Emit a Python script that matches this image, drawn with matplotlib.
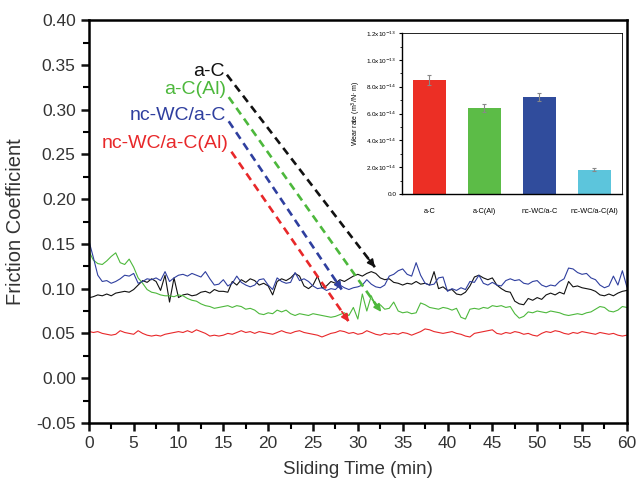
import matplotlib
matplotlib.use("Agg")
import matplotlib.pyplot as plt
from matplotlib.ticker import MultipleLocator, FixedLocator

plt.rcParams['font.family'] = ['Liberation Sans', 'DejaVu Sans']

# ---------------- data ----------------
time_min = [0, 0.1] + [0.5 * i for i in range(1, 121)]

black_ac = [0.092, 0.090,
    0.091, 0.093, 0.092, 0.094, 0.092, 0.095, 0.096, 0.097, 0.096, 0.099,
    0.104, 0.109, 0.107, 0.111, 0.108, 0.098, 0.115, 0.085, 0.112, 0.090,
    0.093, 0.094, 0.092, 0.093, 0.096, 0.097, 0.095, 0.099, 0.097, 0.097,
    0.096, 0.108, 0.104, 0.110, 0.107, 0.111, 0.109, 0.104, 0.106, 0.103,
    0.093, 0.108, 0.111, 0.109, 0.112, 0.117, 0.114, 0.103, 0.100, 0.104,
    0.114, 0.101, 0.103, 0.108, 0.106, 0.110, 0.108, 0.111, 0.114, 0.116,
    0.114, 0.117, 0.119, 0.117, 0.112, 0.110, 0.111, 0.107, 0.106, 0.104,
    0.106, 0.105, 0.108, 0.105, 0.106, 0.104, 0.119, 0.100, 0.102, 0.098,
    0.099, 0.094, 0.093, 0.096, 0.103, 0.113, 0.115, 0.112, 0.110, 0.112,
    0.104, 0.100, 0.097, 0.096, 0.086, 0.083, 0.082, 0.089, 0.087, 0.090,
    0.088, 0.093, 0.095, 0.093, 0.096, 0.094, 0.108, 0.102, 0.103, 0.101,
    0.100, 0.099, 0.097, 0.093, 0.092, 0.094, 0.092, 0.095, 0.097, 0.098]

blue_ncwc = [0.155, 0.150,
    0.135, 0.115, 0.108, 0.109, 0.106, 0.108, 0.111, 0.115, 0.114, 0.117,
    0.106, 0.108, 0.111, 0.110, 0.112, 0.109, 0.119, 0.108, 0.112, 0.115,
    0.116, 0.114, 0.117, 0.115, 0.113, 0.119, 0.111, 0.104, 0.105, 0.110,
    0.103, 0.106, 0.114, 0.107, 0.104, 0.102, 0.104, 0.110, 0.111, 0.104,
    0.099, 0.112, 0.108, 0.106, 0.107, 0.118, 0.109, 0.111, 0.108, 0.103,
    0.100, 0.101, 0.098, 0.100, 0.099, 0.104, 0.101, 0.099, 0.101, 0.102,
    0.104, 0.110, 0.105, 0.102, 0.101, 0.104, 0.114, 0.116, 0.120, 0.122,
    0.116, 0.114, 0.129, 0.115, 0.106, 0.104, 0.105, 0.112, 0.113, 0.097,
    0.100, 0.098, 0.101, 0.099, 0.108, 0.107, 0.115, 0.106, 0.104, 0.107,
    0.104, 0.103, 0.109, 0.111, 0.109, 0.110, 0.106, 0.105, 0.108, 0.109,
    0.104, 0.102, 0.104, 0.103, 0.108, 0.111, 0.123, 0.122, 0.118, 0.116,
    0.117, 0.112, 0.110, 0.104, 0.101, 0.103, 0.114, 0.104, 0.120, 0.102]

green_acal = [0.190, 0.140,
    0.132, 0.128, 0.127, 0.131, 0.136, 0.140, 0.129, 0.127, 0.133, 0.124,
    0.112, 0.106, 0.099, 0.096, 0.095, 0.093, 0.092, 0.092, 0.091, 0.093,
    0.092, 0.089, 0.087, 0.086, 0.083, 0.081, 0.080, 0.078, 0.079, 0.080,
    0.081, 0.079, 0.081, 0.080, 0.077, 0.078, 0.076, 0.072, 0.071, 0.073,
    0.072, 0.076, 0.074, 0.076, 0.072, 0.070, 0.072, 0.071, 0.070, 0.072,
    0.071, 0.070, 0.069, 0.068, 0.069, 0.071, 0.073, 0.070, 0.079, 0.066,
    0.094, 0.075, 0.092, 0.080, 0.082, 0.077, 0.078, 0.085, 0.075, 0.073,
    0.074, 0.072, 0.073, 0.084, 0.082, 0.079, 0.078, 0.077, 0.079, 0.078,
    0.076, 0.078, 0.068, 0.066, 0.077, 0.078, 0.077, 0.079, 0.078, 0.081,
    0.080, 0.081, 0.079, 0.080, 0.072, 0.067, 0.069, 0.074, 0.073, 0.075,
    0.074, 0.073, 0.075, 0.074, 0.073, 0.071, 0.070, 0.071, 0.072, 0.071,
    0.073, 0.074, 0.077, 0.080, 0.079, 0.075, 0.074, 0.076, 0.080, 0.079]

red_ncwcal = [0.065, 0.052,
    0.051, 0.052, 0.050, 0.049, 0.048, 0.049, 0.053, 0.051, 0.050, 0.049,
    0.053, 0.050, 0.048, 0.047, 0.048, 0.047, 0.049, 0.050, 0.051, 0.052,
    0.051, 0.053, 0.051, 0.054, 0.052, 0.050, 0.047, 0.048, 0.047, 0.048,
    0.050, 0.049, 0.051, 0.053, 0.051, 0.052, 0.050, 0.052, 0.051, 0.050,
    0.049, 0.051, 0.053, 0.051, 0.050, 0.052, 0.053, 0.051, 0.050, 0.049,
    0.048, 0.046, 0.048, 0.050, 0.051, 0.053, 0.052, 0.050, 0.051, 0.049,
    0.050, 0.053, 0.051, 0.049, 0.048, 0.050, 0.049, 0.050, 0.049, 0.051,
    0.050, 0.048, 0.050, 0.052, 0.055, 0.054, 0.052, 0.051, 0.050, 0.051,
    0.052, 0.050, 0.049, 0.047, 0.046, 0.050, 0.051, 0.052, 0.053, 0.054,
    0.050, 0.049, 0.051, 0.050, 0.052, 0.051, 0.049, 0.050, 0.048, 0.047,
    0.050, 0.052, 0.051, 0.053, 0.052, 0.050, 0.049, 0.051, 0.050, 0.052,
    0.051, 0.050, 0.049, 0.051, 0.050, 0.049, 0.050, 0.048, 0.047, 0.048]

series_names = ['a-C', 'a-C(Al)', 'nc-WC/a-C', 'nc-WC/a-C(Al)']
line_colors = ['#111111', '#4db83c', '#2f3f9f', '#e8282a']
series_values = [black_ac, green_acal, blue_ncwc, red_ncwcal]

# label anchor (right end) and arrow start/end, in data units (min, mu)
label_pos = [(15.2, 0.343), (15.3, 0.322), (15.3, 0.294), (15.6, 0.262)]
arrow_start = [(15.4, 0.339), (15.6, 0.314), (15.6, 0.287), (15.9, 0.253)]
arrow_end = [(31.9, 0.124), (32.6, 0.074), (28.2, 0.099), (29.0, 0.063)]

# inset data
wear_categories = ['a-C', 'a-C(Al)', 'nc-WC/a-C', 'nc-WC/a-C(Al)']
wear_rate = [8.5e-14, 6.4e-14, 7.2e-14, 1.8e-14]
wear_err = [0.4e-14, 0.3e-14, 0.3e-14, 0.1e-14]
bar_colors = ['#ec2f25', '#5cbc47', '#304c9c', '#5cc5dc']
wear_ticks = [0, 2e-14, 4e-14, 6e-14, 8e-14, 1.0e-13, 1.2e-13]
wear_ticklabels = ['0.0', r'2.0x10$^{-14}$', r'4.0x10$^{-14}$', r'6.0x10$^{-14}$',
                   r'8.0x10$^{-14}$', r'1.0x10$^{-13}$', r'1.2x10$^{-13}$']

# ---------------- figure ----------------
fig = plt.figure(figsize=(6.39, 4.80), dpi=100)
ax = fig.add_axes([0.139, 0.119, 0.842, 0.839])

for vals, col in zip(series_values, line_colors):
    ax.plot(time_min, vals, color=col, lw=0.8)

for name, col, lp, a0, a1 in zip(series_names, line_colors, label_pos, arrow_start, arrow_end):
    ax.text(lp[0], lp[1], name, color=col, fontsize=14, ha='right', va='center')
    ax.plot([a0[0], a1[0]], [a0[1], a1[1]], color=col, lw=1.9, ls='--', dashes=(3.0, 2.0))
    fx = a1[0] - 0.06 * (a1[0] - a0[0])
    fy = a1[1] - 0.06 * (a1[1] - a0[1])
    ax.annotate('', xy=a1, xytext=(fx, fy),
                arrowprops=dict(arrowstyle='-|>', color=col, lw=1.2,
                                mutation_scale=11, shrinkA=0, shrinkB=0))

ax.set_xlim(0, 60)
ax.set_ylim(-0.05, 0.40)
ax.xaxis.set_major_locator(MultipleLocator(5))
ax.xaxis.set_minor_locator(MultipleLocator(2.5))
ax.yaxis.set_major_locator(MultipleLocator(0.05))
ax.yaxis.set_minor_locator(MultipleLocator(0.025))
ax.yaxis.set_major_formatter(plt.FuncFormatter(lambda v, p: f"{v:.2f}"))
ax.tick_params(which='major', direction='out', length=6, width=1.8,
               labelsize=12.5, colors='#111111', labelcolor='#333333')
ax.tick_params(which='minor', direction='out', length=4, width=1.5)
for sp in ax.spines.values():
    sp.set_linewidth(1.8)
ax.set_xlabel('Sliding Time (min)', fontsize=13.5, color='#333333', labelpad=7)
ax.set_ylabel('Friction Coefficient', fontsize=14.5, color='#333333', labelpad=8)

# ---------------- inset ----------------
ins = fig.add_axes([0.629, 0.596, 0.344, 0.335])
xpos = list(range(len(wear_categories)))
ins.bar(xpos, wear_rate, width=0.6, color=bar_colors,
        yerr=wear_err, error_kw=dict(ecolor='#888888', elinewidth=0.8, capsize=1.5, capthick=0.8))
ins.set_xlim(-0.5, 3.5)
ins.set_ylim(0, 1.2e-13)
ins.set_xticks(xpos)
ins.set_xticklabels(wear_categories, fontsize=5.3)
ins.yaxis.set_major_locator(FixedLocator(wear_ticks))
ins.yaxis.set_minor_locator(MultipleLocator(1e-14))
ins.set_yticklabels(wear_ticklabels, fontsize=4.6)
ins.tick_params(axis='x', length=0, pad=10)
ins.tick_params(axis='y', which='major', length=2.5, width=0.8, pad=1.5)
ins.tick_params(axis='y', which='minor', length=1.5, width=0.6)
ins.spines['left'].set_linewidth(1.0)
ins.spines['bottom'].set_linewidth(1.0)
ins.spines['top'].set_linewidth(0.6)
ins.spines['right'].set_linewidth(0.6)
ins.set_ylabel(r'Wear rate (m$^3$/N$\cdot$ m)', fontsize=5, labelpad=2)

fig.savefig('out.png', dpi=100)
